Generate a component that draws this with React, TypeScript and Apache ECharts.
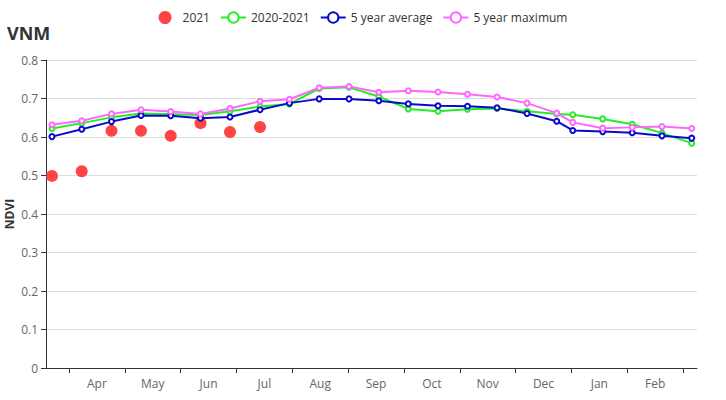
import React, { useEffect, useRef } from "react";
import * as echarts from "echarts";

const months = ["Apr", "May", "Jun", "Jul", "Aug", "Sep", "Oct", "Nov", "Dec", "Jan", "Feb"];
// position of each composite period, in months counted from the start of April
const periodPos = [
  -0.305, 0.228, 0.761, 1.29, 1.822, 2.356, 2.884, 3.422, 3.95, 4.482, 5.016, 5.55,
  6.078, 6.611, 7.139, 7.668, 8.205, 8.737, 9.024, 9.561, 10.09, 10.623, 11.155,
];
const ndvi2021 = [0.499, 0.511, 0.616, 0.616, 0.603, 0.636, 0.613, 0.626];
const ndvi2020_2021 = [
  0.622, 0.636, 0.651, 0.661, 0.659, 0.657, 0.667, 0.679, 0.686, 0.726, 0.729, 0.705,
  0.673, 0.667, 0.672, 0.674, 0.667, 0.66, 0.658, 0.647, 0.633, 0.61, 0.584,
];
const avg5 = [
  0.601, 0.62, 0.64, 0.656, 0.655, 0.649, 0.652, 0.671, 0.688, 0.699, 0.699, 0.694,
  0.686, 0.681, 0.68, 0.676, 0.661, 0.641, 0.617, 0.614, 0.611, 0.603, 0.597,
];
const max5 = [
  0.632, 0.642, 0.66, 0.671, 0.666, 0.66, 0.674, 0.693, 0.698, 0.728, 0.731, 0.716,
  0.72, 0.717, 0.711, 0.704, 0.688, 0.662, 0.638, 0.623, 0.625, 0.627, 0.622,
];
const tickValues = [0, 1, 2, 3, 4, 5, 6, 7, 8, 9, 10, 11];
const labelValues = [0.5, 1.5, 2.5, 3.5, 4.5, 5.5, 6.5, 7.5, 8.5, 9.5, 10.5];

const FONT = "Open Sans";

function pairs(vals: number[]) {
  return vals.map((v, i) => [periodPos[i], v]);
}

function lineSeries(name: string, vals: number[], color: string) {
  return {
    name,
    type: "line",
    data: pairs(vals),
    symbol: "emptyCircle",
    symbolSize: 5,
    lineStyle: { color, width: 2 },
    itemStyle: { color, borderColor: color, borderWidth: 1.5 },
  };
}

export default function App() {
  const ref = useRef<HTMLDivElement>(null);
  useEffect(() => {
    if (!ref.current) return;
    const chart = echarts.init(ref.current, undefined, { renderer: "svg" });
    chart.setOption({
      animation: false,
      textStyle: { fontFamily: FONT },
      title: {
        text: "VNM",
        left: 2,
        top: 19,
        textStyle: { fontSize: 18, fontWeight: "bold", color: "#333", fontFamily: FONT },
      },
      legend: {
        top: 6,
        left: "center",
        itemWidth: 25,
        itemHeight: 13,
        itemGap: 10,
        textStyle: { fontSize: 12, color: "#333", fontFamily: FONT },
        data: ["2021", "2020-2021", "5 year average", "5 year maximum"],
      },
      grid: {
        left: 46,
        right: 29,
        top: 60,
        bottom: 32,
        containLabel: false,
        outerBoundsMode: "none",
      },
      xAxis: {
        type: "value",
        min: -0.412,
        max: 11.25,
        splitLine: { show: false },
        axisLine: { show: true, onZero: false, lineStyle: { color: "#333", width: 1 } },
        axisTick: { show: true, length: 5, customValues: tickValues, lineStyle: { color: "#333" } },
        axisLabel: {
          customValues: labelValues,
          color: "#666",
          fontSize: 12,
          margin: 9,
          formatter: (v: number) => months[Math.round(v - 0.5)] ?? "",
        },
      },
      yAxis: {
        type: "value",
        min: 0,
        max: 0.8,
        interval: 0.1,
        name: "NDVI",
        nameLocation: "middle",
        nameGap: 31,
        nameMoveOverlap: false,
        nameTextStyle: { fontWeight: "bold", fontSize: 12, color: "#333" },
        axisLine: { show: true, onZero: false, lineStyle: { color: "#333", width: 1 } },
        axisTick: { show: true, length: 5, lineStyle: { color: "#333" } },
        axisLabel: { color: "#666", fontSize: 12, margin: 8 },
        splitLine: { show: true, lineStyle: { color: "#ddd" } },
      },
      series: [
        {
          name: "2021",
          type: "scatter",
          data: ndvi2021.map((v, i) => [periodPos[i], v]),
          symbol: "circle",
          symbolSize: 12,
          itemStyle: { color: "#ff3030", opacity: 0.9 },
        },
        lineSeries("2020-2021", ndvi2020_2021, "#22ee22"),
        lineSeries("5 year average", avg5, "#0a0acc"),
        lineSeries("5 year maximum", max5, "#ff66ff"),
      ],
    });
    return () => chart.dispose();
  }, []);
  return (
    <div
      ref={ref}
      style={{ position: "fixed", left: 0, top: 0, width: 726, height: 400, background: "#fff" }}
    />
  );
}
